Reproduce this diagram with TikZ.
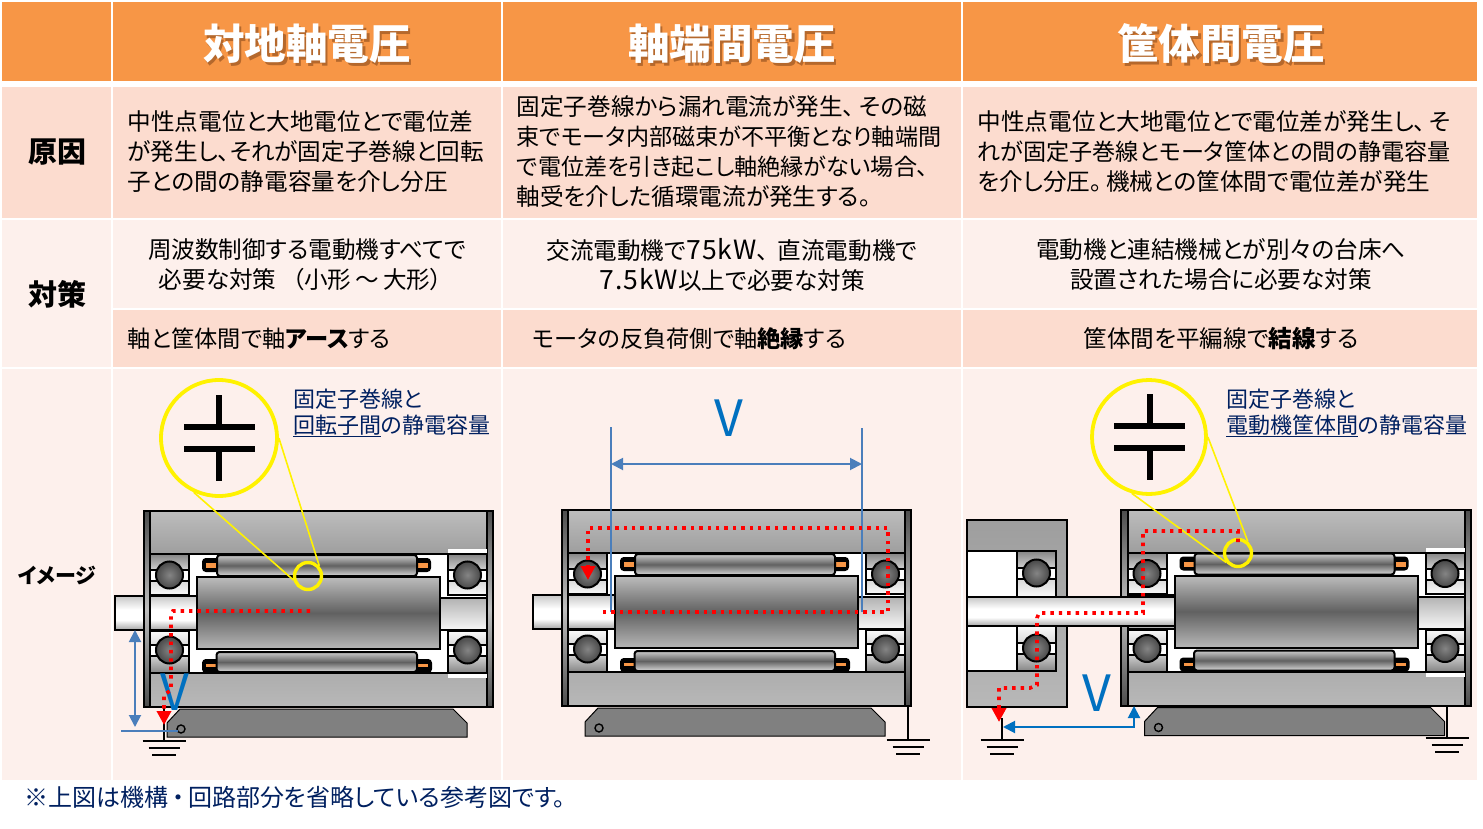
\documentclass[tikz,border=0pt]{standalone}
\usepackage{fontspec}
\setmainfont{Noto Sans CJK JP}[RawFeature={+palt}]
\usetikzlibrary{arrows.meta}

\definecolor{cellhead}{HTML}{F79646}
\definecolor{celldark}{HTML}{FCDCCF}
\definecolor{celllight}{HTML}{FDF0EC}
\definecolor{headshadow}{HTML}{B5682C}
\definecolor{labelblue}{HTML}{002060}
\definecolor{vblue}{HTML}{0070C0}
\definecolor{dimblue}{HTML}{4A7EBB}

% bottom of the filled shape at 25bp, top at 75bp
\pgfdeclareverticalshading{rotorfill}{100bp}{gray(0bp)=(.72);gray(25bp)=(.72);gray(50bp)=(.38);gray(75bp)=(.74);gray(100bp)=(.74)}
\pgfdeclareverticalshading{coilfill}{100bp}{gray(0bp)=(.85);gray(25bp)=(.85);gray(50bp)=(.38);gray(75bp)=(.8);gray(100bp)=(.8)}
\pgfdeclareverticalshading{shaftfill}{100bp}{gray(0bp)=(.65);gray(25bp)=(.65);gray(40bp)=(1);gray(55bp)=(1);gray(75bp)=(.78);gray(100bp)=(.78)}
\pgfdeclareverticalshading{endshaftfill}{100bp}{gray(0bp)=(.97);gray(25bp)=(.97);gray(75bp)=(.7);gray(100bp)=(.7)}
\pgfdeclareverticalshading{upframefill}{100bp}{gray(0bp)=(.62);gray(25bp)=(.62);gray(75bp)=(.74);gray(100bp)=(.74)}
\pgfdeclareverticalshading{lowframefill}{100bp}{gray(0bp)=(.72);gray(25bp)=(.72);gray(75bp)=(.68);gray(100bp)=(.68)}
\pgfdeclareverticalshading{loadfill}{100bp}{gray(0bp)=(.72);gray(25bp)=(.72);gray(75bp)=(.62);gray(100bp)=(.62)}
\pgfdeclareverticalshading{stripfill}{100bp}{gray(0bp)=(.3);gray(25bp)=(.3);gray(50bp)=(.75);gray(75bp)=(.3);gray(100bp)=(.3)}
\pgfdeclareverticalshading{beardark}{100bp}{gray(0bp)=(.82);gray(25bp)=(.82);gray(75bp)=(.52);gray(100bp)=(.52)}
\pgfdeclareverticalshading{bearlight}{100bp}{gray(0bp)=(.98);gray(25bp)=(.98);gray(75bp)=(.85);gray(100bp)=(.85)}
\pgfdeclareverticalshading{beardarkb}{100bp}{gray(0bp)=(.52);gray(25bp)=(.52);gray(75bp)=(.82);gray(100bp)=(.82)}
\pgfdeclareverticalshading{bearlightb}{100bp}{gray(0bp)=(.85);gray(25bp)=(.85);gray(75bp)=(.98);gray(100bp)=(.98)}

\tikzset{
  celltext/.style={inner sep=0pt,align=left,font=\fontsize{23.6}{30}\selectfont},
  centertext/.style={inner sep=0pt,align=center,font=\fontsize{23.6}{30}\selectfont},
  headtext/.style={inner sep=0pt,text=white,font=\fontsize{41.6}{44}\selectfont\bfseries},
  sidetext/.style={inner sep=0pt,font=\fontsize{29}{30}\selectfont\bfseries},
  notetext/.style={inner sep=0pt,align=left,text=labelblue,font=\fontsize{22}{26}\selectfont},
  vlabel/.style={inner sep=0pt,text=vblue,font=\fontsize{50}{50}\selectfont},
  capring/.style={circle,draw=yellow,line width=3.8pt,inner sep=0pt,minimum size=116pt},
  smallring/.style={circle,draw=yellow,line width=3.4pt,inner sep=0pt,minimum size=27pt},
  calloutline/.style={draw=yellow,line width=1.6pt},
  capline/.style={line width=6pt},
  reddots/.style={draw=red,line width=3.6pt,dash pattern=on 3.4pt off 5pt,-{Triangle[length=14pt,width=14pt]}},
  dimline/.style={draw=dimblue,line width=1.9pt},
  dimarrow/.style={dimline,{Triangle[length=12pt,width=12pt]}-{Triangle[length=12pt,width=12pt]}},
  blk/.style={draw=black,line width=2pt},
  shadedblk/.style={blk,shade,shading=#1},
  ball/.style={draw=black,line width=2pt,inner color=black!48,outer color=black!72},
  base/.style={draw=black,line width=1pt,fill=black!50},
}

% white header text with its dark copy behind
\newcommand{\shadowed}[1]{\leavevmode\rlap{\kern2.5pt\raisebox{-2.5pt}{\color{headshadow}#1}}#1}
% wider latin letters inside the japanese lines
\newcommand{\lat}[1]{{\fontsize{26.5}{30}\selectfont\addfontfeature{LetterSpace=4}#1}}
% a line with long katakana, a little tighter
\newcommand{\tight}[1]{{\fontsize{23.1}{30}\selectfont #1}}

% earth symbol, stem from #2 down to #3
\newcommand{\earth}[3]{%
  \draw[line width=1.7pt] (#1,#2) -- (#1,#3);
  \draw[line width=1.7pt] (#1-21.5,#3) -- (#1+21.5,#3);
  \draw[line width=1.7pt] (#1-15.5,#3+7) -- (#1+15.5,#3+7);
  \draw[line width=1.7pt] (#1-12,#3+14) -- (#1+12,#3+14);
}

% one bearing, #1 left edge, #2 top edge, #3 bottom edge, #4 ball centre
\newcommand{\bearing}[4]{%
  \fill[white,draw=black,line width=2pt] (#1,#2) rectangle (#1+39,#3);
  \ifnum#4<600
    \draw[shadedblk=beardark] (#1,#2) rectangle (#1+39,#4-5);
    \draw[shadedblk=bearlight] (#1,#4+6) rectangle (#1+39,#3);
  \else
    \draw[shadedblk=bearlightb] (#1,#2) rectangle (#1+39,#4-5);
    \draw[shadedblk=beardarkb] (#1,#4+6) rectangle (#1+39,#3);
  \fi
  \shade[ball] (#1+19.5,#4) circle (13.5);
}

% one motor, drawn in the place of the left one
\newcommand{\motorbody}{%
  \draw[shadedblk=upframefill] (143.5,511) rectangle (493,554);
  \draw[shadedblk=lowframefill] (143.5,673) rectangle (493,707);
  \draw[blk,fill=white] (150,554) rectangle (487,673);
  \draw[shadedblk=shaftfill] (150,596) rectangle (197,630);
  \draw[shadedblk=endshaftfill] (440,598) rectangle (487,630);
  \bearing{150}{554}{595}{575}
  \bearing{150}{631}{673}{650}
  \bearing{448}{554}{595}{575}
  \bearing{448}{631}{673}{650}
  \draw[blk,fill=black,rounded corners=3pt] (203,559) rectangle (225,571);
  \draw[blk,fill=black,rounded corners=3pt] (410,559) rectangle (430,571);
  \draw[blk,fill=black,rounded corners=3pt] (203,660) rectangle (225,672);
  \draw[blk,fill=black,rounded corners=3pt] (410,660) rectangle (431,672);
  \fill[cellhead] (206,563) rectangle (217,568);
  \fill[cellhead] (418,563) rectangle (428,568);
  \fill[cellhead] (206,664) rectangle (216,667);
  \fill[cellhead] (418,664) rectangle (428,667);
  \draw[shadedblk=coilfill,rounded corners=3pt] (217,555) rectangle (417,576);
  \draw[shadedblk=coilfill,rounded corners=3pt] (216.5,652) rectangle (417,672);
  \draw[shadedblk=rotorfill] (197,577) rectangle (440,649);
  \draw[shadedblk=stripfill] (143.5,511) rectangle (150,707);
  \draw[shadedblk=stripfill] (487,511) rectangle (493,707);
  \draw[base] (167,737) -- (167,723) -- (180,709) -- (453,709) -- (467,723) -- (467,737) -- cycle;
  \draw[line width=1.4pt,fill=black!50] (181,729) circle (4);
}
\newcommand{\outshaft}{\draw[shadedblk=shaftfill] (114.5,596) rectangle (143.5,630);}

\begin{document}
\begin{tikzpicture}[x=1pt,y=-1pt]
  \useasboundingbox (0,0) rectangle (1483,829);

  % table
  \fill[cellhead] (2,2) rectangle (1477,81);
  \fill[celldark] (2,87) rectangle (1477,218);
  \fill[celllight] (2,220) rectangle (1477,308);
  \fill[celldark] (2,310) rectangle (1477,367);
  \fill[celllight] (2,308) rectangle (111,367);
  \fill[celllight] (2,369) rectangle (1477,780);
  \draw[white,line width=2pt] (112,0) -- (112,781);
  \draw[white,line width=2pt] (502,0) -- (502,781);
  \draw[white,line width=2pt] (962,0) -- (962,781);

  % header and side column
  \node[headtext] (headA) at (307,45) {\shadowed{対地軸電圧}};
  \node[headtext] (headB) at (732,45) {\shadowed{軸端間電圧}};
  \node[headtext] (headC) at (1221,45) {\shadowed{筐体間電圧}};
  \node[sidetext] (sideCause) at (57,152) {原因};
  \node[sidetext] (sideMeasure) at (57,294) {対策};
  \node[sidetext,font=\fontsize{21}{24}\selectfont\bfseries] (sideImage) at (57,575) {イメージ};

  % cause row
  \node[celltext,anchor=west] (causeA) at (127.5,152) {中性点電位と大地電位とで電位差\\が発生し、それが固定子巻線と回転\\子との間の静電容量を介し分圧};
  \node[celltext,anchor=west] (causeB) at (516.5,152) {固定子巻線から漏れ電流が発生、\hspace{5pt}その磁\\\tight{束でモータ内部磁束が不平衡となり軸端間}\\\tight{で電位差を引き起こし軸絶縁がない場合、}\\軸受を介した循環電流が発生する。};
  \node[celltext,anchor=west] (causeC) at (977.5,152) {中性点電位と大地電位とで電位差が発生し、\hspace{4pt}そ\\\tight{れが固定子巻線とモータ筐体との間の静電容量}\\を介し分圧。\hspace{4pt}機械との筐体間で電位差が発生};

  % measure rows
  \node[centertext] (needA) at (307,265) {周波数制御する電動機すべてで\\必要な対策\hspace{16pt}（小形\hspace{4pt}～\hspace{4pt}大形）\hspace*{13pt}};
  \node[centertext] (needB) at (732,264.5) {交流電動機で\lat{75kW}、\hspace{9pt}直流電動機で\\\lat{7.5kW}以上で必要な対策};
  \node[centertext] (needC) at (1221,265) {電動機と連結機械とが別々の台床へ\\設置された場合に必要な対策};
  \node[celltext,anchor=west,font=\fontsize{23.2}{30}\selectfont] (fixA) at (127.5,338.5) {軸と筐体間で軸\textbf{アース}する};
  \node[celltext,anchor=west,font=\fontsize{23.2}{30}\selectfont] (fixB) at (532.5,338.5) {モータの反負荷側で軸\textbf{絶縁}する};
  \node[centertext] (fixC) at (1221,339) {筐体間を平編線で\textbf{結線}する};

  % left motor
  \outshaft
  \motorbody
  \fill[white] (448,549) rectangle (487,553);
  \fill[white] (448,674) rectangle (487,678);
  \earth{164}{707}{741}

  % middle motor
  \begin{scope}[shift={(418,-1)}]
    \outshaft
    \motorbody
  \end{scope}
  \earth{908}{706}{740}

  % right motor with the driven machine
  \begin{scope}[shift={(977.5,-1.5)}]
    \motorbody
    \fill[white] (448,549) rectangle (487,553);
    \fill[white] (448,674) rectangle (487,678);
  \end{scope}
  \earth{1447}{705}{738}
  \draw[shadedblk=loadfill] (967,520) rectangle (1067,707);
  \draw[blk,fill=white] (967,551) rectangle (1017,671);
  \bearing{1017}{551}{597}{573}
  \bearing{1017}{626}{671}{648}
  \draw[shadedblk=shaftfill] (967,597) rectangle (1175,626);
  \earth{1002}{718}{740}

  % capacitors with their callouts
  \node[capring] (capA) at (219,438) {};
  \node[smallring] (ringA) at (308,576) {};
  \draw[calloutline] (capA.-115) -- (ringA.195);
  \draw[calloutline] (capA.0) -- (ringA.42);
  \draw[capline] (184,427) -- (255,427);
  \draw[capline] (184,449) -- (255,449);
  \draw[capline] (219,395) -- (219,427);
  \draw[capline] (219,449) -- (219,481);
  \node[capring,minimum size=114pt] (capC) at (1149,437) {};
  \node[smallring] (ringC) at (1238,553) {};
  \draw[calloutline] (capC.-107) -- (ringC.-142);
  \draw[calloutline] (capC.0) -- (ringC.50);
  \draw[capline] (1114,426) -- (1185,426);
  \draw[capline] (1114,448) -- (1185,448);
  \draw[capline] (1150,394) -- (1150,426);
  \draw[capline] (1150,448) -- (1150,480);
  \node[notetext,anchor=west] (noteA) at (293,413) {固定子巻線と\\\underline{回転子間}の静電容量};
  \node[notetext,anchor=west] (noteC) at (1226,413) {固定子巻線と\\\underline{電動機筐体間}の静電容量};

  % voltages
  \node[vlabel] (voltA) at (175,692) {V};
  \node[vlabel] (voltB) at (729,418) {V};
  \node[vlabel] (voltC) at (1097,693) {V};
  \coordinate (dimTop) at (135,630);
  \coordinate (dimBot) at (135,727);
  \coordinate (dimLeft) at (121,731);
  \coordinate (dimRight) at (178,731);
  \draw[dimarrow] (dimTop) -- (dimBot);
  \draw[dimline] (dimLeft) -- (dimRight);
  \coordinate (probeL) at (611,427);
  \coordinate (probeLe) at (611,612);
  \coordinate (probeR) at (862,428);
  \coordinate (probeRe) at (862,612);
  \coordinate (spanL) at (611,464);
  \coordinate (spanR) at (862,464);
  \draw[dimline] (probeL) -- (probeLe);
  \draw[dimline] (probeR) -- (probeRe);
  \draw[dimarrow] (spanL) -- (spanR);
  \coordinate (frameTap) at (1134,706);
  \coordinate (earthTap) at (1003,727);
  \draw[draw=vblue,line width=2pt,{Triangle[length=12pt,width=12pt]}-{Triangle[length=12pt,width=12pt]}] (frameTap) |- (earthTap);

  % current paths
  \coordinate (curA) at (310,611);
  \coordinate (curAe) at (164,725);
  \draw[reddots] (curA) -- (173,611) -- (171,615) -- (171,690) -- (164,695) -- (curAe);
  \coordinate (curB) at (603,612);
  \coordinate (curBe) at (588,580);
  \draw[reddots] (curB) -- (888,612) -- (888,528) -- (588,528) -- (curBe);
  \coordinate (curC) at (1238,542);
  \coordinate (curCe) at (999,722);
  \draw[reddots] (curC) -- (1238,531) -- (1143,531) -- (1143,613) -- (1039,613) -- (1037,618) -- (1037,685) -- (1030,688) -- (999,688) -- (curCe);

  % note below the table
  \node[anchor=west,inner sep=0pt,text=labelblue,font=\fontsize{24}{26}\selectfont] (footNote) at (24,797) {※上図は機構\hspace{4pt}・\hspace{4pt}回路部分を省略している参考図です。};
\end{tikzpicture}
\end{document}
